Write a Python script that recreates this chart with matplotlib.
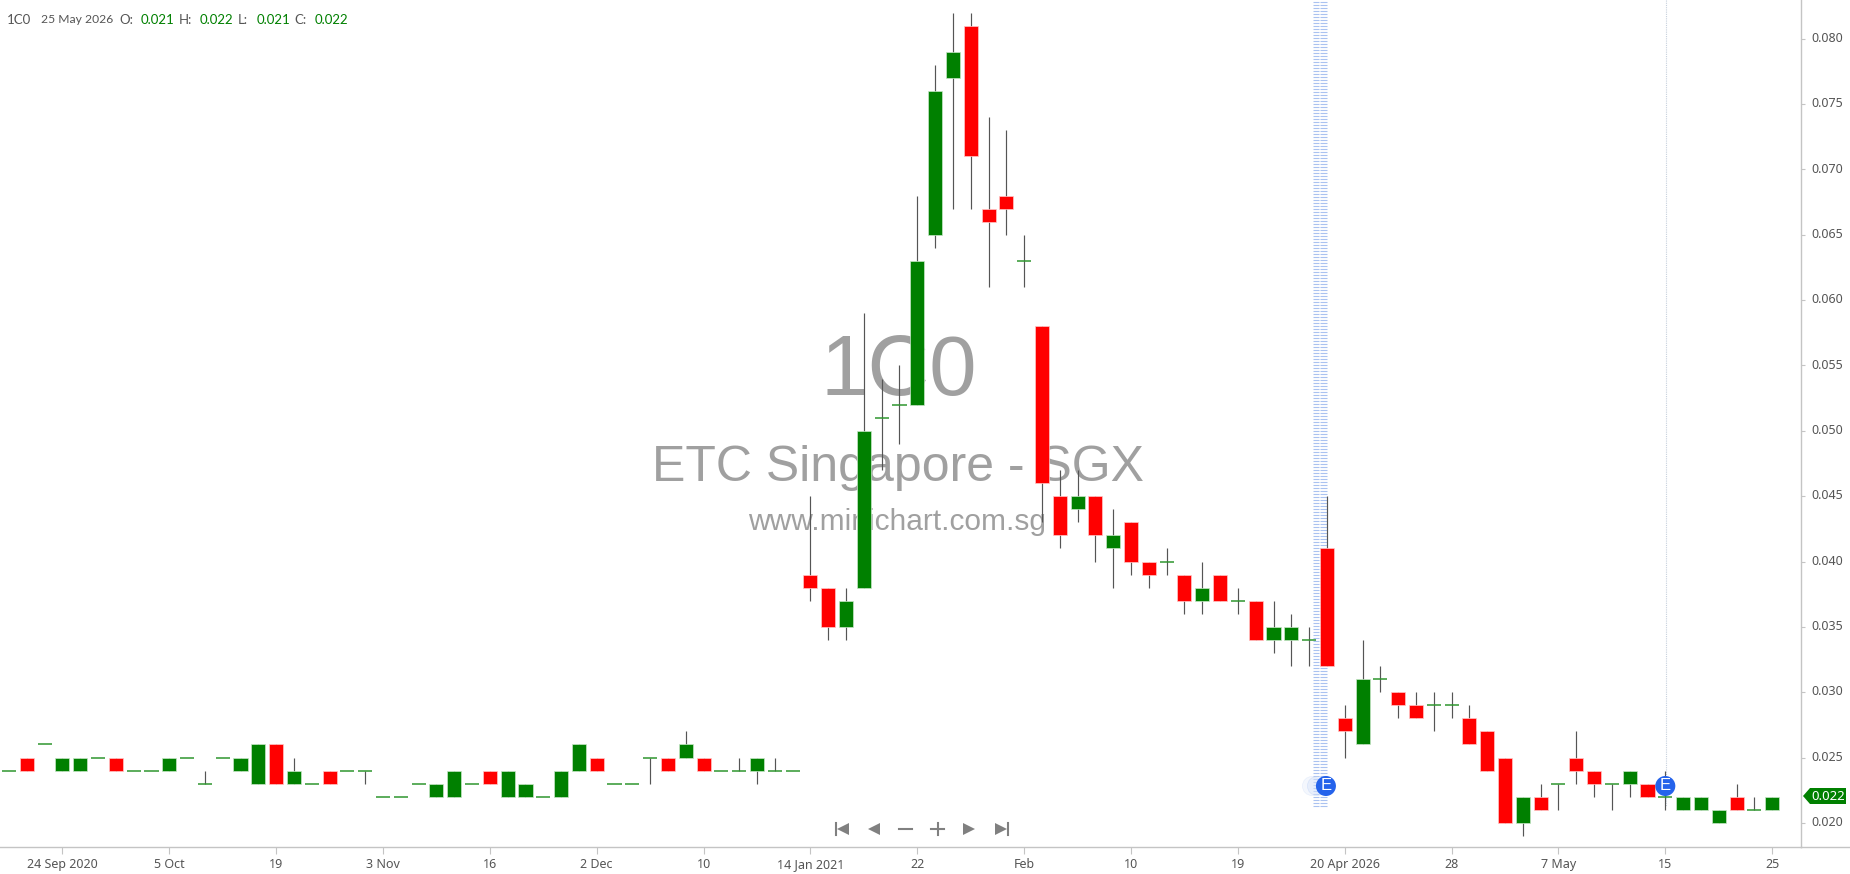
import numpy as np
import matplotlib
matplotlib.use('Agg')
import matplotlib.pyplot as plt
from matplotlib.patches import Circle, Polygon
from matplotlib.transforms import Affine2D

plt.rcParams['font.family'] = ['Noto Sans', 'DejaVu Sans']

# prices, one list per column
opens = [.024, .025, .026, .024, .024, .025, .025, .024, .024, .024,
         .025, .023, .025, .024, .023, .026, .023, .023, .024, .024,
         .024, .022, .022, .023, .022, .022, .023, .024, .022, .022,
         .022, .022, .024, .025, .023, .023, .025, .025, .025, .025,
         .024, .024, .024, .024, .024, .039, .038, .035, .038, .051,
         .052, .052, .065, .077, .081, .067, .068, .063, .058, .045,
         .044, .045, .041, .043, .040, .040, .039, .037, .039, .037,
         .037, .034, .034, .034, .041, .028, .026, .031, .030, .029,
         .029, .029, .028, .027, .025, .020, .022, .023, .025, .024,
         .023, .023, .023, .022, .021, .021, .020, .022, .021, .021]
highs = [.024, .025, .026, .025, .025, .025, .025, .024, .024, .025,
         .025, .024, .025, .025, .026, .026, .025, .023, .024, .024,
         .024, .022, .022, .023, .023, .024, .023, .024, .024, .023,
         .022, .024, .026, .025, .023, .023, .025, .025, .027, .025,
         .024, .025, .025, .025, .024, .045, .038, .038, .059, .054,
         .055, .068, .078, .082, .082, .074, .073, .065, .058, .047,
         .047, .045, .044, .043, .040, .041, .039, .040, .039, .038,
         .037, .037, .036, .035, .045, .029, .034, .032, .030, .030,
         .030, .030, .029, .027, .025, .022, .023, .023, .027, .024,
         .023, .024, .023, .024, .022, .022, .021, .023, .022, .022]
lows = [.024, .024, .026, .024, .024, .025, .024, .024, .024, .024,
        .025, .023, .025, .024, .023, .023, .023, .023, .023, .024,
        .023, .022, .022, .023, .022, .022, .023, .023, .022, .022,
        .022, .022, .024, .024, .023, .023, .023, .024, .025, .024,
        .024, .024, .023, .024, .024, .037, .034, .034, .038, .047,
        .049, .052, .064, .067, .067, .061, .065, .061, .043, .041,
        .043, .040, .038, .039, .038, .039, .036, .036, .037, .036,
        .034, .033, .032, .032, .032, .025, .026, .030, .028, .028,
        .027, .028, .026, .024, .020, .019, .021, .021, .023, .022,
        .021, .022, .022, .021, .021, .021, .020, .021, .021, .021]
closes = [.024, .024, .026, .025, .025, .025, .024, .024, .024, .025,
          .025, .023, .025, .025, .026, .023, .024, .023, .023, .024,
          .024, .022, .022, .023, .023, .024, .023, .023, .024, .023,
          .022, .024, .026, .024, .023, .023, .025, .024, .026, .024,
          .024, .024, .025, .024, .024, .038, .035, .037, .050, .051,
          .052, .063, .076, .079, .071, .066, .067, .063, .046, .042,
          .045, .042, .042, .040, .039, .040, .037, .038, .037, .037,
          .034, .035, .035, .034, .032, .027, .031, .031, .029, .028,
          .029, .029, .026, .024, .020, .022, .021, .023, .024, .023,
          .023, .024, .022, .022, .022, .022, .021, .021, .021, .022]

date_positions = [3, 9, 15, 21, 27, 33, 39, 45, 51, 57, 63, 69, 75, 81, 87, 93, 99]
date_labels = ['24 Sep 2020', '5 Oct', '19', '3 Nov', '16', '2 Dec', '10', '14 Jan 2021',
               '22', 'Feb', '10', '19', '20 Apr 2026', '28', '7 May', '15', '25']
price_ticks = [0.020, 0.025, 0.030, 0.035, 0.040, 0.045, 0.050,
               0.055, 0.060, 0.065, 0.070, 0.075, 0.080]
earnings_bars = [74, 93]

W, H = 1850, 874
GREEN, RED = '#008000', '#ff0000'
GREY = '#555555'
AXIS = '#c4c4c4'

fig = plt.figure(figsize=(W / 100, H / 100), dpi=100, facecolor='white')
ax = fig.add_axes([0, (H - 847) / H, 1800.5 / W, 847 / H])
ax.set_xlim(-0.505, 100.59)
# candles sit about a pixel under the printed price labels in the original
ax.set_ylim(0.020 - 24.1 / 13070, 0.020 + 822.9 / 13070)

# overlay bits sit in screen pixels, origin top left like the screenshot
px = Affine2D().scale(1, -1).translate(0, H)

x = np.arange(len(opens))
o, h, l, c = map(np.array, (opens, highs, lows, closes))

# watermark goes under the candles
wm = dict(transform=px, ha='center', color='#a0a0a0', family='Liberation Sans', zorder=1)
ax.text(899, 395, '1C0', fontsize=61.5, va='baseline', **wm)
ax.text(898, 481, 'ETC Singapore - SGX', fontsize=36, va='baseline', **wm)
ax.text(897, 530, 'www.minichart.com.sg', fontsize=21.5, va='baseline', **wm)

# dotted earnings band and the thin line for the later one
for y in np.arange(1.5, 806, 3):
    ax.plot([1313, 1319], [y, y], transform=px, color='#aac2f0', lw=0.8, zorder=1.5,
            solid_capstyle='butt', clip_on=False)
    ax.plot([1320, 1327], [y, y], transform=px, color='#aac2f0', lw=0.8, zorder=1.5,
            solid_capstyle='butt', clip_on=False)
ax.plot([1665.5, 1665.5], [0, 806], transform=px, color='#c6d0dc', lw=0.8,
        ls=(0, (1, 1)), zorder=1.5)

# candles
ax.vlines(x, l, h, color=GREY, lw=0.85, zorder=2)
up = c > o
down = c < o
flat = c == o
body_w = 0.79
ax.bar(x[up], (c - o)[up], bottom=o[up], width=body_w, color=GREEN,
       edgecolor='#c8e6c8', lw=0.5, zorder=3)
ax.bar(x[down], (o - c)[down], bottom=c[down], width=body_w, color=RED,
       edgecolor='#ffc8c8', lw=0.5, zorder=3)
ax.hlines(o[flat], x[flat] - body_w / 2, x[flat] + body_w / 2, color='#2f962f', lw=1.1, zorder=3)

# E badges
for i in earnings_bars:
    bx = ax.transData.transform((x[i], 0))[0]
    if i == 74:
        bx -= 1
        for off, a in ((-14, 0.25), (-9, 0.4)):
            ax.add_patch(Circle((bx + off, 786), 9.5, transform=px, fc='#d5e2fa', ec='#b8cdf5',
                                lw=0.5, alpha=a, zorder=4, clip_on=False))
    ax.add_patch(Circle((bx, 786), 10, transform=px, fc='#2563eb', ec='none', zorder=5))
    ax.text(bx, 786, 'E', transform=px, color='white', fontsize=12, ha='center', va='center',
            family='Liberation Sans', zorder=6)

# axes
for s in ('top', 'left'):
    ax.spines[s].set_visible(False)
for s in ('right', 'bottom'):
    ax.spines[s].set_color(AXIS)
    ax.spines[s].set_linewidth(1.0)
ax.plot([1800.5, W], [847, 847], transform=px, color=AXIS, lw=1.0, clip_on=False)

ax.set_xticks(date_positions)
ax.set_xticklabels(date_labels)
ax.tick_params(axis='x', length=5, width=0.8, color=AXIS, labelcolor=GREY, labelsize=9, pad=3)
ax.yaxis.tick_right()
ax.set_yticks(price_ticks)
ax.set_yticklabels([])
ax.tick_params(axis='y', length=3, width=0.8, color=AXIS)
# price labels by hand, tick_params can't lift them off the tick
for v in price_ticks:
    ax.annotate(f'{v:.3f}', xy=(1, v), xycoords=('axes fraction', 'data'), xytext=(8, 0.2),
                textcoords='offset points', color=GREY, fontsize=9, ha='left', va='center',
                annotation_clip=False)

# last price tag on the axis
ax.add_patch(Polygon([(1803, 796), (1810, 788), (1846, 788), (1846, 804), (1810, 804)],
                     transform=px, fc=GREEN, ec='none', zorder=7, clip_on=False))
ax.text(1828, 796, f'{closes[-1]:.3f}', transform=px, color='white', fontsize=9.5, fontweight='bold',
        ha='center', va='center', zorder=8, clip_on=False)

# navigation buttons under the candles
NAV = '#808080'
def tri(xc, d):
    ax.add_patch(Polygon([(xc - 6 * d, 823), (xc + 6 * d, 829), (xc - 6 * d, 835)], transform=px,
                         fc=NAV, ec='none', zorder=7))
tri(843, -1)
ax.plot([836, 836], [823, 835], transform=px, color=NAV, lw=1.5, zorder=7)
tri(874, -1)
ax.plot([899, 912], [829, 829], transform=px, color=NAV, lw=1.5, zorder=7)
ax.plot([931, 944], [829, 829], transform=px, color=NAV, lw=1.5, zorder=7)
ax.plot([937.5, 937.5], [823, 835], transform=px, color=NAV, lw=1.5, zorder=7)
tri(969, 1)
tri(1001, 1)
ax.plot([1008, 1008], [823, 835], transform=px, color=NAV, lw=1.5, zorder=7)

# OHLC readout top left
readout = [(7, '1C0', GREY, 9.5), (41, '25 May 2026', GREY, 8.7), (119, 'O:', GREY, 9.5),
           (141, f'{opens[-1]:.3f}', GREEN, 9.5), (179, 'H:', GREY, 9.5),
           (200, f'{highs[-1]:.3f}', GREEN, 9.5), (238, 'L:', GREY, 9.5),
           (257, f'{lows[-1]:.3f}', GREEN, 9.5), (294, 'C:', GREY, 9.5),
           (315, f'{closes[-1]:.3f}', GREEN, 9.5)]
for rx, txt, col, size in readout:
    ax.text(rx, 19.5, txt, transform=px, color=col, fontsize=size, family='Lato',
            ha='left', va='center', zorder=8)

fig.savefig('out.png', dpi=100, facecolor='white')
